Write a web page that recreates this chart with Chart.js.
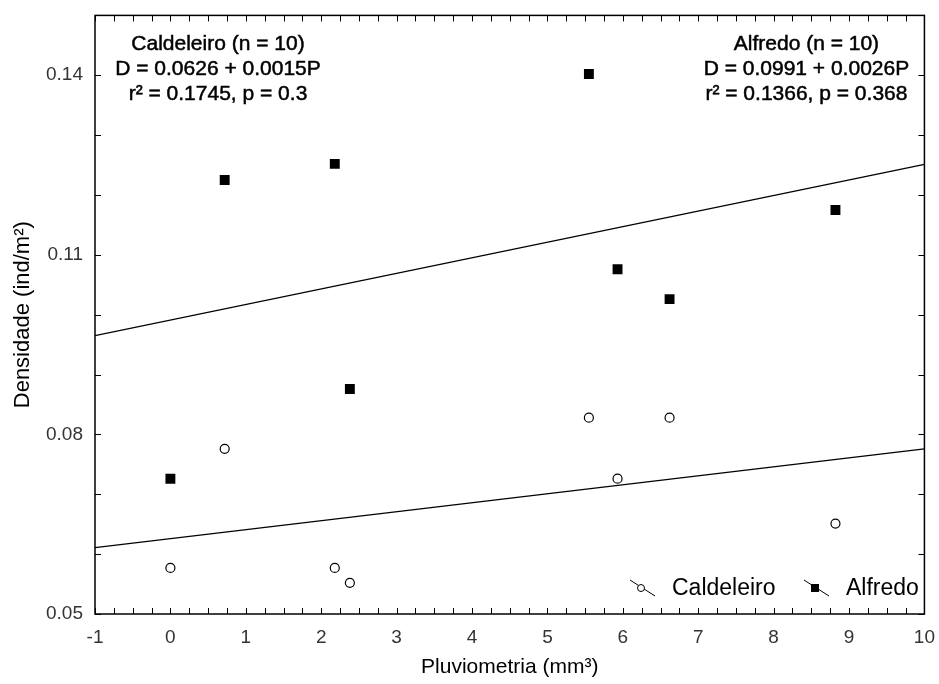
<!DOCTYPE html>
<html>
<head>
<meta charset="utf-8">
<script src="https://cdn.jsdelivr.net/npm/chart.js@4/dist/chart.umd.min.js"></script>
<style>
  html, body { margin: 0; padding: 0; background: #fff; }
  #wrap { width: 939px; height: 684px; }
</style>
</head>
<body>
<div id="wrap"><canvas id="chart" width="939" height="684"></canvas></div>
<script>
// pluviometria (mm3) and densidade (ind/m2)
const pluvio = [0, 0.72, 2.18, 2.38, 5.55, 5.93, 6.62, 8.82]
const caldeleiro = [0.0577, 0.0776, 0.0577, 0.0552, 0.0828, 0.0726, 0.0828, 0.0651]
const alfredo = [0.0726, 0.1225, 0.1252, 0.0876, 0.1402, 0.1076, 0.1026, 0.1175]

// fitted lines, end points at x = -1 and x = 10
const fitX = [-1, 10]
const fitCaldeleiro = [0.0611, 0.0776]
const fitAlfredo = [0.0965, 0.1251]

const yTicks = [0.05, 0.08, 0.11, 0.14]
const notesCaldeleiro = ['Caldeleiro (n = 10)', 'D = 0.0626 + 0.0015P', 'r² = 0.1745, p = 0.3']
const notesAlfredo = ['Alfredo (n = 10)', 'D = 0.0991 + 0.0026P', 'r² = 0.1366, p = 0.368']

const FONT = '"Liberation Sans", Arial, sans-serif'

const toPoints = (xs, ys) => xs.map((x, i) => ({ x: x, y: ys[i] }))

// frame, inward ticks, notes and legend
const framePlugin = {
  id: 'frame',
  afterDraw(chart) {
    const { ctx, chartArea: a, scales } = chart
    const x = scales.x, y = scales.y
    ctx.save()
    ctx.strokeStyle = '#000'
    ctx.lineWidth = 1.5
    ctx.strokeRect(a.left, a.top, a.right - a.left, a.bottom - a.top)

    ctx.lineWidth = 1
    ctx.beginPath()
    for (let v = -1; v <= 10.001; v += 0.25) {
      const px = Math.round(x.getPixelForValue(v)) + 0.5
      ctx.moveTo(px, a.bottom); ctx.lineTo(px, a.bottom - 6)
      ctx.moveTo(px, a.top); ctx.lineTo(px, a.top + 6)
    }
    for (let v = 0.05; v <= 0.1501; v += 0.01) {
      const py = Math.round(y.getPixelForValue(v)) + 0.5
      ctx.moveTo(a.left, py); ctx.lineTo(a.left + 6, py)
      ctx.moveTo(a.right, py); ctx.lineTo(a.right - 6, py)
    }
    ctx.stroke()

    ctx.fillStyle = '#000'
    ctx.font = '21px ' + FONT
    ctx.textAlign = 'center'
    ctx.textBaseline = 'middle'
    ctx.lineWidth = 0.5
    const note = (t, cx, cy) => { ctx.fillText(t, cx, cy); ctx.strokeText(t, cx, cy) }
    notesCaldeleiro.forEach((t, i) => note(t, a.left + 123, a.top + 29 + i * 25))
    notesAlfredo.forEach((t, i) => note(t, a.right - 118, a.top + 29 + i * 25))

    // legend
    const ly = a.bottom - 26
    ctx.textAlign = 'left'
    ctx.font = '23px ' + FONT
    ctx.lineWidth = 1
    const drawKey = (cx, filled, label) => {
      ctx.beginPath()
      ctx.moveTo(cx - 11, ly - 8); ctx.lineTo(cx + 14, ly + 8)
      ctx.stroke()
      if (filled) {
        ctx.fillRect(cx - 4, ly - 4, 8, 8)
      } else {
        ctx.beginPath()
        ctx.arc(cx, ly, 3.5, 0, Math.PI * 2)
        ctx.fillStyle = '#fff'
        ctx.fill()
        ctx.stroke()
        ctx.fillStyle = '#000'
      }
      ctx.fillText(label, cx + 31, ly + 1)
    }
    drawKey(641, false, 'Caldeleiro')
    drawKey(815, true, 'Alfredo')
    ctx.restore()
  }
}

const ctx = document.getElementById('chart').getContext('2d')
new Chart(ctx, {
  type: 'scatter',
  data: {
    datasets: [
      {
        label: 'Caldeleiro',
        data: toPoints(pluvio, caldeleiro),
        pointStyle: 'circle',
        pointRadius: 4.5,
        backgroundColor: '#fff',
        borderColor: '#000',
        borderWidth: 1.2
      },
      {
        label: 'Alfredo',
        data: toPoints(pluvio, alfredo),
        pointStyle: 'rect',
        pointRadius: 7,
        backgroundColor: '#000',
        borderColor: '#000',
        borderWidth: 0
      },
      {
        label: 'fit Caldeleiro',
        type: 'line',
        data: toPoints(fitX, fitCaldeleiro),
        borderColor: '#000',
        borderWidth: 1.3,
        pointRadius: 0,
        fill: false
      },
      {
        label: 'fit Alfredo',
        type: 'line',
        data: toPoints(fitX, fitAlfredo),
        borderColor: '#000',
        borderWidth: 1.3,
        pointRadius: 0,
        fill: false
      }
    ]
  },
  options: {
    responsive: false,
    animation: false,
    layout: { padding: { top: 14, right: 11 } },
    plugins: {
      legend: { display: false },
      tooltip: { enabled: false }
    },
    scales: {
      x: {
        type: 'linear',
        min: -1,
        max: 10,
        grid: { display: false },
        border: { display: false },
        ticks: { stepSize: 1, color: '#333', padding: 4, font: { family: FONT, size: 19 } },
        title: { display: true, text: 'Pluviometria (mm³)', color: '#000', padding: { top: 6 }, font: { family: FONT, size: 21 } },
        afterFit(scale) { scale.height = 70 }
      },
      y: {
        type: 'linear',
        min: 0.05,
        max: 0.15,
        grid: { display: false },
        border: { display: false },
        afterBuildTicks(scale) { scale.ticks = yTicks.map(v => ({ value: v })) },
        ticks: { color: '#333', padding: 4, font: { family: FONT, size: 19 }, callback: v => String(v) },
        title: { display: true, text: 'Densidade (ind/m²)', color: '#000', padding: { top: 10, bottom: 0 }, font: { family: FONT, size: 22 } },
        afterFit(scale) { scale.width = 95 }
      }
    }
  },
  plugins: [framePlugin]
})
</script>
</body>
</html>
